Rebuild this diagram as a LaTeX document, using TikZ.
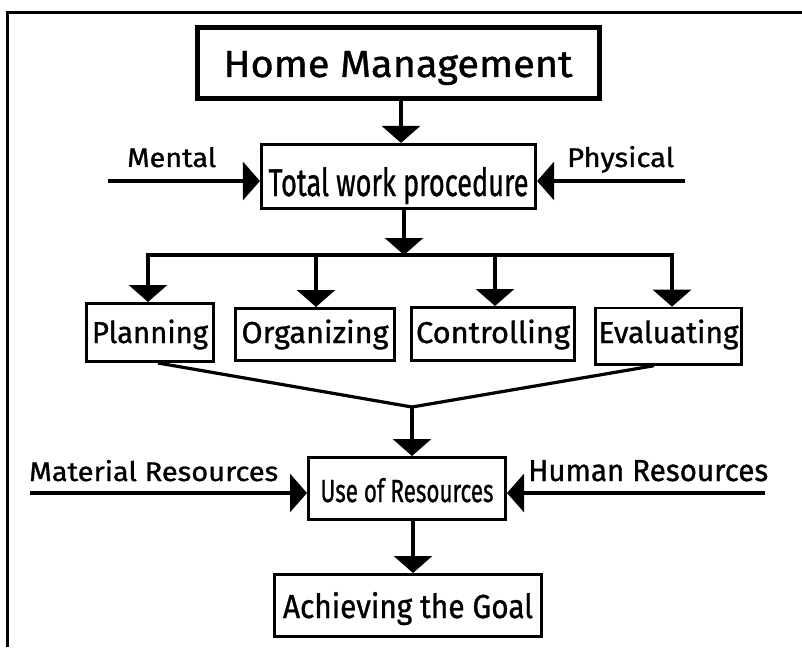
\documentclass[tikz,border=0pt]{standalone}
\usepackage{fontspec}
\usepackage{graphicx}
\setmainfont{Fira Sans}[FakeBold=1]
\usetikzlibrary{arrows.meta}
\newcommand\fitxt[3]{\resizebox{#1pt}{#2pt}{#3}}
\tikzset{
  frameline/.style={line width=3.5pt, line join=miter},
  thickbox/.style={draw, line width=5pt, inner sep=0pt, font=\fontsize{20}{24}\selectfont},
  thinbox/.style={draw, line width=2.6pt, inner sep=0pt, font=\fontsize{20}{24}\selectfont},
  arr/.style={line width=3.2pt, -{Triangle[width=38pt,length=17pt]}},
  plainline/.style={line width=3.2pt},
  lbl/.style={anchor=base west, inner sep=0pt, font=\fontsize{20}{24}\selectfont},
}
\begin{document}
\begin{tikzpicture}[x=1pt,y=-1pt]
\useasboundingbox (0,0) rectangle (802,647);
% frame
\draw[frameline] (7.5,647) -- (7.5,12.5) -- (802,12.5);

% boxes
\node[thickbox, minimum width=402pt, minimum height=71pt, text height=28pt, text depth=0pt] (home) at (398,63) {\fitxt{349}{26}{Home Management}};
\node[thinbox, minimum width=274.5pt, minimum height=64.5pt, text height=39pt, text depth=0pt] (tot) at (398.5,176.5) {\fitxt{260}{29}{Total work procedure}};
\node[thinbox, minimum width=127.4pt, minimum height=58.4pt, text height=23.5pt, text depth=2.5pt] (plan) at (150,332.5) {\fitxt{116}{23.5}{Planning}};
\node[thinbox, minimum width=159.4pt, minimum height=52.4pt, text height=23.5pt, text depth=6.5pt] (org) at (315,334.5) {\fitxt{147}{23.5}{Organizing}};
\node[thinbox, minimum width=163.4pt, minimum height=53.4pt, text height=23.5pt, text depth=5.5pt] (ctrl) at (493,334) {\fitxt{154}{23.5}{Controlling}};
\node[thinbox, minimum width=146.4pt, minimum height=56.4pt, text height=23.5pt, text depth=9.9pt] (eval) at (668.5,336.2) {\fitxt{140}{23.5}{Evaluating}};
\node[thinbox, minimum width=197.4pt, minimum height=62.4pt, text height=27pt, text depth=0pt] (use) at (407,488.5) {\fitxt{173}{24}{Use of Resources}};
\node[thinbox, minimum width=267.4pt, minimum height=62.4pt, text height=26pt, text depth=1pt] (ach) at (408,605.5) {\fitxt{250}{26}{Achieving the Goal}};

% side labels
\node[lbl] (mental) at (127,167) {\fitxt{89}{20}{Mental}};
\node[lbl] (phys) at (567,167) {\fitxt{107}{21}{Physical}};
\node[lbl] (mat) at (29,481) {\fitxt{249}{21}{Material Resources}};
\node[lbl] (hum) at (528,481) {\fitxt{240}{21}{Human Resources}};

% axes and free ends
\coordinate (ax1) at (401,0);
\coordinate (ax2) at (404,0);
\coordinate (ax3) at (413,0);
\coordinate (mentalL) at (108,181);
\coordinate (physR) at (685,181);
\coordinate (matL) at (30,493);
\coordinate (humR) at (765,493);
\coordinate (barL) at (148,255);
\coordinate (br2) at (316,255);
\coordinate (br3) at (495,255);
\coordinate (barR) at (672,255);
\coordinate (meet) at (412,407);

% connectors
\draw[arr] (home.south -| ax1) -- (tot.north -| ax1);
\draw[arr] (mentalL) -- (mentalL -| tot.west);
\draw[arr] (physR) -- (physR -| tot.east);
\draw[arr] (tot.south -| ax2) -- (barL -| ax2);
\draw[plainline, line cap=rect] (barL) -- (barR);
\draw[arr] (barL) -- (barL |- plan.north);
\draw[arr] (br2) -- (br2 |- org.north);
\draw[arr] (br3) -- (br3 |- ctrl.north);
\draw[arr] (barR) -- (barR |- eval.north);
\draw[plainline, line join=miter] ([xshift=8pt]plan.south) -- (meet) -- ([xshift=-14.5pt]eval.south);
\draw[arr] (meet) -- (meet |- use.north);
\draw[arr] (matL) -- (matL -| use.west);
\draw[arr] (humR) -- (humR -| use.east);
\draw[arr] (use.south -| ax3) -- (ach.north -| ax3);
\end{tikzpicture}
\end{document}
